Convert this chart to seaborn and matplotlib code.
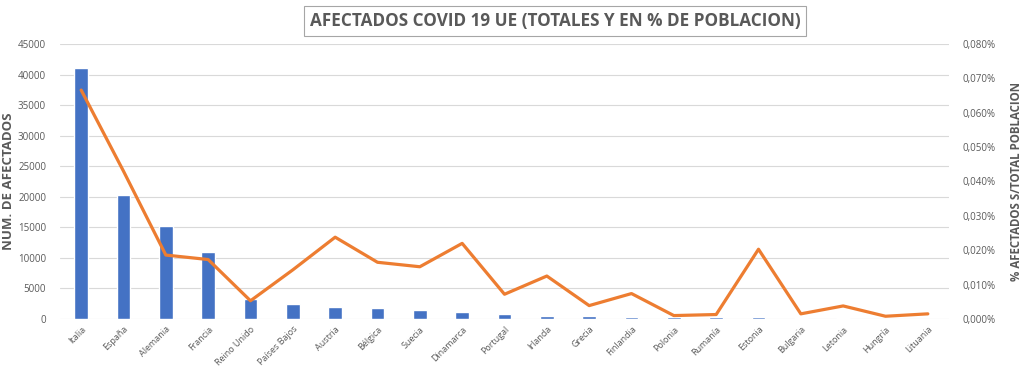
import numpy as np
import pandas as pd
import matplotlib
matplotlib.use('Agg')
import matplotlib.pyplot as plt
from matplotlib.ticker import FuncFormatter, MultipleLocator
import seaborn as sns

paises = ['Italia', 'España', 'Alemania', 'Francia', 'Reino Unido', 'Países Bajos',
          'Austria', 'Bélgica', 'Suecia', 'Dinamarca', 'Portugal', 'Irlanda', 'Grecia',
          'Finlandia', 'Polonia', 'Rumanía', 'Estonia', 'Bulgaria', 'Letonia', 'Hungría',
          'Lituania']
afectados = [41035, 20300, 15300, 11000, 3270, 2460, 2010, 1795, 1470, 1150, 785,
             560, 460, 330, 300, 250, 260, 100, 100, 70, 30]
pct_poblacion = [0.0666, 0.0430, 0.0186, 0.0173, 0.0053, 0.0143, 0.0238, 0.0165,
                 0.0152, 0.0220, 0.0072, 0.0125, 0.0039, 0.0074, 0.0010, 0.0013,
                 0.0203, 0.0015, 0.0038, 0.0008, 0.0015]

df = pd.DataFrame({'pais': paises, 'afectados': afectados, 'pct': pct_poblacion})

sns.set_style('white')
plt.rcParams['font.family'] = ['Open Sans', 'DejaVu Sans']
gris = '#595959'

fig = plt.figure(figsize=(10.24, 3.77), dpi=100)
ax = fig.add_axes([60 / 1024, 1 - 319 / 377, 889 / 1024, 275 / 377])

sns.barplot(data=df, x='pais', y='afectados', color='#4472C4', saturation=1,
            width=0.32, ax=ax, zorder=2)
ax.set_ylim(0, 45000)
ax.yaxis.set_major_locator(MultipleLocator(5000))
ax.grid(axis='y', color='#d9d9d9', linewidth=0.8, zorder=0)
ax.set_axisbelow(True)
for s in ax.spines.values():
    s.set_visible(False)
ax.tick_params(axis='y', length=0, labelsize=7, labelcolor=gris, pad=10)
ax.tick_params(axis='x', length=0, labelsize=6.5, labelcolor=gris, pad=4)
plt.setp(ax.get_xticklabels(), rotation=45, ha='right', rotation_mode='anchor')
ax.set_xlabel('')
ax.set_ylabel('NUM. DE AFECTADOS', fontsize=9.5, fontweight='bold', color=gris)
ax.yaxis.set_label_coords(-45 / 889, 0.5)

ax2 = ax.twinx()
sns.pointplot(data=df, x='pais', y='pct', color='#ED7D31', markers='', linewidth=2.3,
              ax=ax2)
ax2.set_ylim(0, 0.08)
ax2.yaxis.set_major_locator(MultipleLocator(0.01))
ax2.yaxis.set_major_formatter(FuncFormatter(lambda v, p: f'{v:.3f}%'.replace('.', ',')))
for s in ax2.spines.values():
    s.set_visible(False)
ax2.tick_params(axis='y', length=0, labelsize=7, labelcolor=gris, pad=10)
ax2.set_ylabel('% AFECTADOS S/TOTAL POBLACION', fontsize=8.3, fontweight='bold',
               color=gris)
ax2.yaxis.set_label_coords(1 + 61 / 889, 0.5)
ax2.set_xlim(-0.5, len(paises) - 0.5)
ax2.set_xlabel('')

fig.text(555 / 1024, 1 - 21 / 377, 'AFECTADOS COVID 19 UE (TOTALES Y EN % DE POBLACION)',
         ha='center', va='center', fontsize=12.3, fontweight='bold', color=gris,
         bbox=dict(boxstyle='square,pad=0.35', facecolor='white', edgecolor='#a6a6a6',
                   linewidth=0.8))

fig.savefig('out.png', dpi=100)
